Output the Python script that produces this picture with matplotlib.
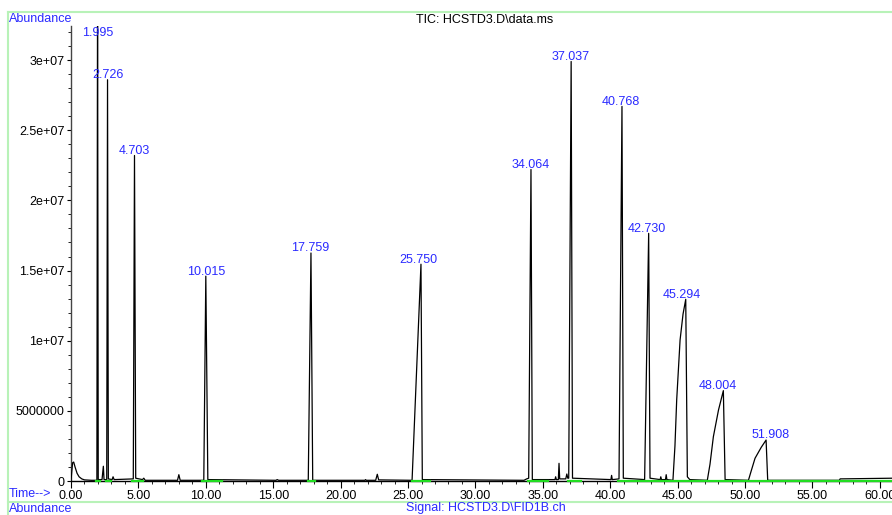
import numpy as np
import matplotlib.pyplot as plt
from matplotlib.lines import Line2D
from matplotlib.ticker import MultipleLocator, FixedLocator, FixedFormatter

plt.rcParams['font.family'] = ['Liberation Sans', 'DejaVu Sans']

# --- trace (time in min, abundance in 1e6 counts) ---
trace_t = [0.0, 0.05, 0.12, 0.2, 0.3, 0.45, 0.6, 0.8, 1.0, 1.5,
           1.92, 1.97, 2.02, 2.3, 2.4, 2.45,
           2.65, 2.71, 2.77, 3.05, 3.12, 3.2,
           4.62, 4.71, 4.8, 5.3, 5.4, 5.5,
           7.9, 8.0, 8.1, 9.85, 10.0, 10.15,
           15.2, 15.3, 15.4, 17.6, 17.8, 17.93,
           21.8, 21.85, 21.9, 22.6, 22.72, 22.82,
           25.3, 25.96, 26.06, 33.6, 33.8, 33.95, 34.12, 34.22,
           35.9, 35.95, 36.0, 36.15, 36.2, 36.25,
           36.7, 36.78, 36.85, 36.92, 37.1, 37.2,
           40.05, 40.1, 40.15, 40.65, 40.87, 40.97,
           42.55, 42.85, 42.95, 43.7, 43.75, 43.8, 44.1, 44.15, 44.2,
           44.65, 44.8, 44.93, 45.18, 45.4, 45.6, 45.72, 45.9,
           47.2, 47.4, 47.65, 48.03, 48.39, 48.52,
           50.25, 50.45, 50.74, 51.2, 51.56, 51.68,
           57.0, 57.05, 61.0]
trace_y = [0.0, 0.6, 1.3, 1.35, 1.0, 0.55, 0.3, 0.15, 0.08, 0.05,
           0.05, 36.0, 0.1, 0.1, 1.05, 0.1,
           0.1, 28.6, 0.15, 0.1, 0.3, 0.1,
           0.15, 23.2, 0.2, 0.1, 0.2, 0.05,
           0.05, 0.45, 0.05, 0.05, 14.6, 0.1,
           0.05, 0.1, 0.05, 0.05, 16.25, 0.05,
           0.05, 0.1, 0.05, 0.05, 0.48, 0.08,
           0.05, 15.45, 0.1, 0.05, 0.15, 0.2, 22.2, 0.1,
           0.1, 0.3, 0.1, 0.1, 1.26, 0.15,
           0.15, 0.5, 0.2, 0.2, 29.9, 0.2,
           0.1, 0.4, 0.1, 0.15, 26.7, 0.2,
           0.1, 17.65, 0.2, 0.1, 0.3, 0.1, 0.1, 0.45, 0.1,
           0.05, 2.5, 5.8, 10.05, 11.9, 12.95, 0.3, 0.1,
           0.05, 1.2, 3.16, 5.06, 6.44, 0.1,
           0.05, 0.7, 1.62, 2.4, 2.92, 0.05,
           0.05, 0.15, 0.2]

peak_rt = [1.995, 2.726, 4.703, 10.015, 17.759, 25.750, 34.064,
           37.037, 40.768, 42.730, 45.294, 48.004, 51.908]

# integration marks (green) on the baseline
integ_start = [1.85, 2.6, 4.5, 9.7, 17.55, 25.3, 33.9, 36.85, 40.6]
integ_end = [2.15, 3.0, 5.35, 11.2, 18.1, 26.6, 35.4, 37.85, 61.0]

yticks = [0, 5e6, 1e7, 1.5e7, 2e7, 2.5e7, 3e7]
ytick_labels = ['0', '5000000', '1e+07', '1.5e+07', '2e+07', '2.5e+07', '3e+07']

blue = '#2a2aff'
W, H = 892, 515

t = np.array(trace_t)
y = np.array(trace_y) * 1e6

fig = plt.figure(figsize=(W / 100, H / 100), dpi=100)
ax = fig.add_axes([71 / W, 1 - 481 / H, (W - 71) / W, (481 - 26) / H])

ax.plot(t, y, color='black', lw=0.9, zorder=3)
for s, e in zip(integ_start, integ_end):
    ax.plot([s, e], [0, 0], color='#22dd22', lw=1.6, zorder=4, clip_on=False)

ax.set_xlim(0, 60.9)
ax.set_ylim(0, 3.243e7)

for rt in peak_rt:
    near = (t > rt - 0.5) & (t < rt + 0.6)
    top = min(y[near].max(), 3.16e7)
    ax.annotate(f'{rt:.3f}', (rt, top), xytext=(0, -1), textcoords='offset points',
                ha='center', va='bottom', color=blue, fontsize=9, zorder=5)

ax.xaxis.set_major_locator(MultipleLocator(5))
ax.xaxis.set_minor_locator(MultipleLocator(1))
ax.xaxis.set_major_formatter(lambda v, p: f'{v:.2f}')
ax.yaxis.set_major_locator(FixedLocator(yticks))
ax.yaxis.set_major_formatter(FixedFormatter(ytick_labels))
ax.yaxis.set_minor_locator(MultipleLocator(1e6))

ax.tick_params(axis='x', which='major', length=5, width=0.8, pad=1.5, labelsize=9)
ax.tick_params(axis='x', which='minor', length=2.5, width=0.6)
ax.tick_params(axis='y', which='major', length=3, width=0.8, pad=1.5, labelsize=9)
ax.tick_params(axis='y', which='minor', length=2, width=0.6)

for side in ['top', 'right']:
    ax.spines[side].set_visible(False)
ax.spines['left'].set_color('#444444')
ax.spines['left'].set_linewidth(1.0)
ax.spines['bottom'].set_linewidth(1.0)
ax.patch.set_visible(False)

# green page frame
frame = '#b8f2b8'
fig.add_artist(Line2D([8 / W, 1], [1 - 12 / H, 1 - 12 / H], color=frame, lw=1.5))
fig.add_artist(Line2D([8 / W, 8 / W], [1 - 12 / H, 0], color=frame, lw=1.5))
fig.add_artist(Line2D([8 / W, 1], [1 - 501.5 / H, 1 - 501.5 / H], color=frame, lw=1.5))

fig.text(9 / W, 1 - 19 / H, 'Abundance', color=blue, fontsize=9, va='center', ha='left')
fig.text(485 / W, 1 - 20 / H, 'TIC: HCSTD3.D\\data.ms', color='black', fontsize=9,
         va='center', ha='center')
fig.text(9 / W, 1 - 494 / H, 'Time-->', color=blue, fontsize=9, va='center', ha='left')
fig.text(9 / W, 1 - 509.5 / H, 'Abundance', color=blue, fontsize=9, va='center', ha='left')
fig.text(486 / W, 1 - 508.5 / H, 'Signal: HCSTD3.D\\FID1B.ch', color=blue, fontsize=9,
         va='center', ha='center')

fig.savefig('out.png', dpi=100)
